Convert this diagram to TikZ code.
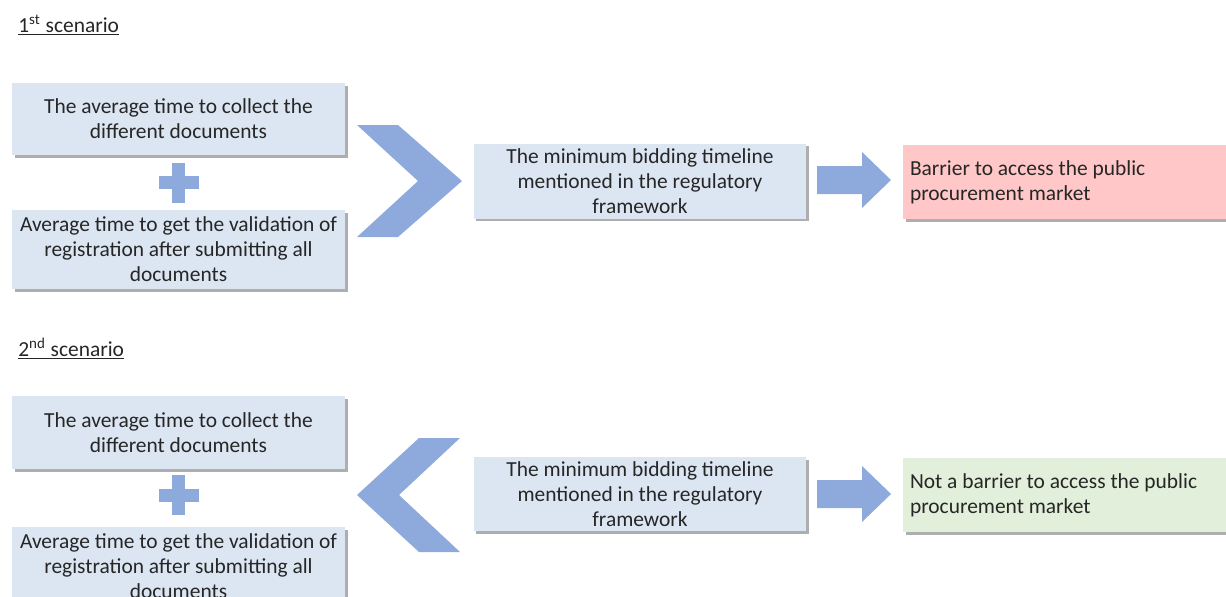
\documentclass[tikz,border=0pt]{standalone}
\usepackage{fontspec}
\setmainfont{Carlito}
\usetikzlibrary{shadows,calc}

\definecolor{boxblue}{RGB}{220,230,242}
\definecolor{shapeblue}{RGB}{142,169,219}
\definecolor{boxred}{RGB}{255,199,199}
\definecolor{boxgreen}{RGB}{226,239,218}
\definecolor{txtgray}{RGB}{38,38,38}

\tikzset{
  boxshadow/.style={drop shadow={shadow xshift=1.5pt, shadow yshift=-1.5pt, fill=black!45, opacity=0.7}},
  infobox/.style={boxshadow, fill=boxblue, minimum width=6.66cm, align=center, inner sep=0pt,
    text=txtgray, font=\fontsize{12.2}{14.2}\selectfont},
  resultbox/.style={boxshadow, minimum width=6.46cm, minimum height=1.48cm, text width=6.18cm,
    align=flush left, inner sep=0.14cm, text=txtgray, font=\fontsize{12.2}{14.2}\selectfont},
  heading/.style={anchor=base west, inner sep=0pt, text=txtgray, font=\fontsize{12.2}{14.2}\selectfont},
}

\begin{document}
\begin{tikzpicture}[x=0.02cm, y=-0.02cm]

    \useasboundingbox (0,0) rectangle (1226,596);
    \clip (0,0) rectangle (1226,596);

    % primer escenario
    \node[heading] (title1) at (18,32) {\underline{1\textsuperscript{st} scenario}};

    \node[infobox, minimum height=1.44cm] (collect1) at (178.5,119)
        {The average time to collect the\\different documents};
    \node[infobox, minimum height=1.58cm] (valid1) at (178.5,249.5)
        {Average time to get the validation of\\registration after submitting all\\documents};

    % signo mas
    \coordinate (plus1) at ($(collect1.south)!0.5!(valid1.north)$);
    \fill[shapeblue] ($(plus1)+(-6.5,-20)$) rectangle ++(13,40);
    \fill[shapeblue] ($(plus1)+(-20,-6.5)$) rectangle ++(40,13);

    % chevron >
    \fill[shapeblue] (357,125) -- (398,125) -- (462,181) -- (398,237) -- (357,237) -- (418,181) -- cycle;

    \node[infobox, minimum height=1.5cm] (bidding1) at (640,181)
        {The minimum bidding timeline\\mentioned in the regulatory\\framework};

    % flecha
    \fill[shapeblue] (817,166) -- (862,166) -- (862,152) -- (891,180) -- (862,208) -- (862,194) -- (817,194) -- cycle;

    \node[resultbox, fill=boxred] (barrier) at (1064.5,182)
        {Barrier to access the public\\procurement market};

    % segundo escenario
    \node[heading] (title2) at (18,356) {\underline{2\textsuperscript{nd} scenario}};

    \node[infobox, minimum height=1.46cm] (collect2) at (178.5,432.5)
        {The average time to collect the\\different documents};
    \node[infobox, minimum height=1.58cm] (valid2) at (178.5,566.5)
        {Average time to get the validation of\\registration after submitting all\\documents};

    % signo mas
    \coordinate (plus2) at ($(collect2.south)!0.45!(valid2.north)$);
    \fill[shapeblue] ($(plus2)+(-6.5,-20)$) rectangle ++(13,40);
    \fill[shapeblue] ($(plus2)+(-20,-6.5)$) rectangle ++(40,13);

    % chevron <
    \fill[shapeblue] (460,438) -- (419,438) -- (357,495) -- (419,552) -- (460,552) -- (399,495) -- cycle;

    \node[infobox, minimum height=1.48cm] (bidding2) at (640,494)
        {The minimum bidding timeline\\mentioned in the regulatory\\framework};

    % flecha
    \fill[shapeblue] (817,480) -- (862,480) -- (862,466) -- (891,494) -- (862,522) -- (862,508) -- (817,508) -- cycle;

    \node[resultbox, fill=boxgreen] (nobarrier) at (1064.5,495)
        {Not a barrier to access the public\\procurement market};

\end{tikzpicture}
\end{document}
